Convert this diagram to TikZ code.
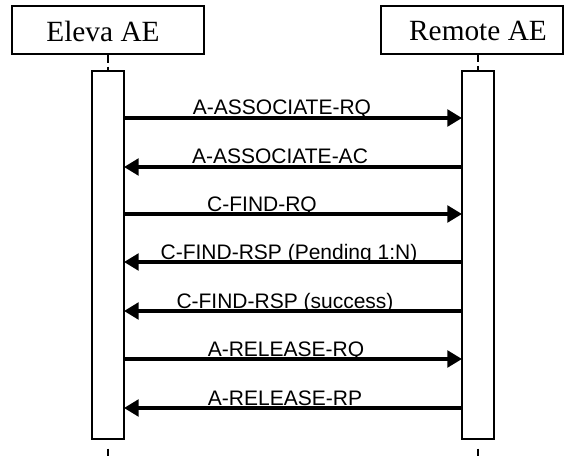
\documentclass[tikz,border=0pt]{standalone}
\usepackage{fontspec}
\setmainfont{Liberation Serif}
\newfontfamily\labfont{Liberation Sans}
\usetikzlibrary{arrows.meta}
\begin{document}
\begin{tikzpicture}[x=0.75pt,y=-0.75pt,
  actor/.style={draw,line width=1.1pt,minimum height=36pt,inner sep=0pt},
  titletext/.style={font=\fontsize{22}{24}\selectfont,inner sep=0pt},
  bar/.style={draw,fill=white,line width=1.1pt,minimum width=24pt,minimum height=276pt,inner sep=0pt},
  life/.style={line width=2.1pt,dash pattern=on 6pt off 3pt},
  lifeend/.style={line width=2.1pt,dash pattern=on 6pt off 6.75pt,dash phase=6pt},
  msg/.style={line width=2.5pt,-{Triangle[length=11pt,width=12.5pt]}},
  lab/.style={font=\labfont\fontsize{15.75}{18}\selectfont,anchor=base,inner sep=0pt}]
\useasboundingbox (0,0) rectangle (564,456);
% actors
\node[actor,minimum width=144pt] (eleva) at (108,30) {};
\node[titletext] (elevat) at (103,31) {Eleva AE};
\node[actor,minimum width=136.5pt] (remote) at (472,30) {};
\node[titletext] (remotet) at (478,31) {Remote AE};
% activation bars
\node[bar] (lbar) at (108,255) {};
\node[bar] (rbar) at (478,255) {};
% lifelines
\coordinate (ltop) at (eleva.south);
\coordinate (rtop) at (478,54);
\coordinate (lbot) at (108,456);
\coordinate (rbot) at (478,456);
\draw[life] (ltop) -- (lbar.north);
\draw[life] (rtop) -- (rbar.north);
\draw[lifeend] (lbar.south) -- (lbot);
\draw[lifeend] (rbar.south) -- (rbot);
% message end points
\foreach \i/\y in {1/118,2/167,3/214,4/262,5/311,6/359,7/408}{
  \coordinate (l\i) at (124,\y);
  \coordinate (r\i) at (462,\y);
}
% messages
\draw[msg] (l1) -- (r1);
\draw[msg] (r2) -- (l2);
\draw[msg] (l3) -- (r3);
\draw[msg] (r4) -- (l4);
\draw[msg] (r5) -- (l5);
\draw[msg] (l6) -- (r6);
\draw[msg] (r7) -- (l7);
% labels
\node[lab] (t1) at (282,115) {A-ASSOCIATE-RQ};
\node[lab] (t2) at (280,164) {A-ASSOCIATE-AC};
\node[lab] (t3) at (262,211) {C-FIND-RQ};
\node[lab] (t4) at (289,259) {C-FIND-RSP (Pending 1:N)};
\node[lab] (t5) at (285,308) {C-FIND-RSP (success)};
\node[lab] (t6) at (286,356) {A-RELEASE-RQ};
\node[lab] (t7) at (285,405) {A-RELEASE-RP};
\end{tikzpicture}
\end{document}
